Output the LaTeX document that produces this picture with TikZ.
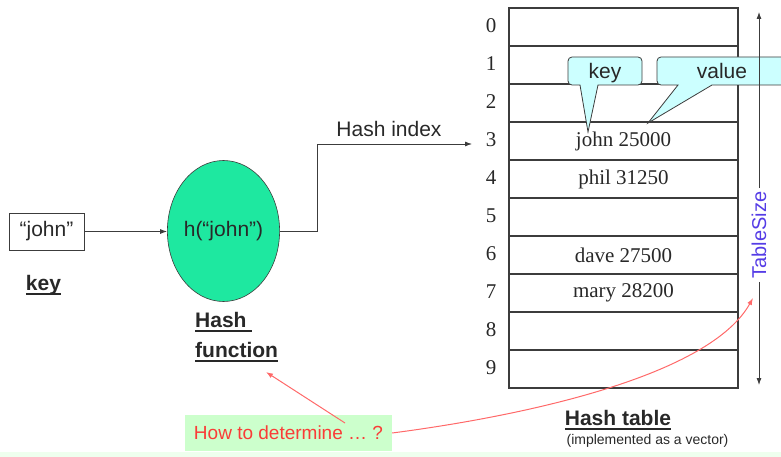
\documentclass[tikz,border=0pt]{standalone}
\usepackage{fontspec}
\setmainfont{Liberation Serif}
\setsansfont{Liberation Sans}
\usetikzlibrary{shapes.geometric,arrows.meta}
\definecolor{ellg}{RGB}{30,232,160}
\definecolor{callc}{RGB}{204,255,255}
\definecolor{qbox}{RGB}{204,255,204}
\definecolor{qred}{RGB}{250,60,55}
\definecolor{curvred}{RGB}{255,105,105}
\definecolor{tsblue}{RGB}{85,60,230}
\definecolor{stripc}{RGB}{238,255,238}
\definecolor{ink}{RGB}{40,40,40}
\definecolor{tline}{RGB}{60,60,60}
\newcommand\ulx[1]{\setbox0\hbox{#1}\rlap{\rule[-5pt]{\wd0}{2.5pt}}\box0}
\begin{document}
\begin{tikzpicture}[x=1pt,y=-1pt,
  tip/.tip={Latex[length=7pt,width=5pt]},
  sans/.style={font=\sffamily\fontsize{21}{26}\selectfont, text=ink},
  bsans/.style={font=\sffamily\bfseries\fontsize{21}{26}\selectfont, text=ink},
  serif/.style={font=\rmfamily\fontsize{21}{26}\selectfont, text=ink},
  rowbox/.style={draw=tline, line width=1.3pt, minimum width=229pt, minimum height=38pt, inner sep=0pt, serif},
  conn/.style={draw=tline, line width=0.8pt},
  callout/.style={draw=tline, line width=0.8pt, fill=callc},
  redc/.style={draw=curvred, line width=1pt},
]
\useasboundingbox (0,0) rectangle (781,457);
\clip (0,0) rectangle (781,457);
\fill[stripc] (0,452) rectangle (781,457);

% hash table
\foreach \i/\t in {0/,1/,2/,3/john 25000,4/phil 31250,5/,6/dave 27500,7/mary 28200,8/,9/}{
  \node[rowbox] (r\i) at (623.5,{27+38*\i}) {\t};
  \node[serif] (i\i) at (491,{26+38*\i}) {\i};
}

% callouts
\draw[callout] (580,85) -- (588,132) -- (598,85) [rounded corners=4pt] -- (642,85) -- (642,57) -- (568,57) -- (568,85) [sharp corners] -- cycle;
\node[sans, anchor=base] (kc) at (605,79) {key};
\draw[callout] (678,85) -- (648,123) -- (712,85) [rounded corners=4pt] -- (800,85) -- (800,57) -- (657,57) -- (657,85) [sharp corners] -- cycle;
\node[sans, anchor=base] (vc) at (722,79) {value};

% TableSize arrow
\node[rotate=90, font=\sffamily\fontsize{20}{24}\selectfont, text=tsblue] (ts) at (759,235) {TableSize};
\coordinate (tstop) at (759,12);
\coordinate (tsbot) at (759,385);
\draw[conn,-tip] (ts.east) -- (tstop);
\draw[conn,-tip] (ts.west) -- (tsbot);

% key and hash function
\node[draw=tline, line width=0.8pt, sans, minimum width=75pt, minimum height=37pt] (jb) at (46.5,231.5) {“john”};
\node[ellipse, draw=tline, line width=0.6pt, fill=ellg, minimum width=103pt, minimum height=141pt, inner sep=0pt, sans] (hf) at (223.5,231) {h(“john”)};
\draw[conn,-tip] (jb.east) -- (jb.east -| hf.west);
\coordinate (hit) at (472,144);
\draw[conn,-tip] (hf.east) -- ++(37,0) |- (hit);
\node[sans] (hil) at (389,129) {Hash index};

\node[bsans, anchor=base] (kl) at (43.5,290) {\ulx{key}};
\node[bsans, anchor=base west, inner sep=0pt] (hfl1) at (195,327) {\ulx{Hash }};
\node[bsans, anchor=base west, inner sep=0pt] (hfl2) at (195,357) {\ulx{function}};
\node[bsans, anchor=base] (htl) at (618,425) {\ulx{Hash table}};
\node[font=\sffamily\fontsize{14}{17}\selectfont, text=ink, anchor=base] (htsub) at (647.5,444) {(implemented as a vector)};

% question
\node[fill=qbox, minimum width=207pt, minimum height=36pt, font=\sffamily\fontsize{19}{23}\selectfont, text=qred] (hq) at (288.5,433) {How to determine … ?};
\coordinate (q1) at (345,423);
\coordinate (hft) at (266,372);
\draw[redc,-tip] (q1) -- (hft);
\coordinate (tsarr) at (753,298);
\draw[redc,-tip] (hq.east) .. controls (530,415) and (710,375) .. (tsarr);
\end{tikzpicture}
\end{document}
